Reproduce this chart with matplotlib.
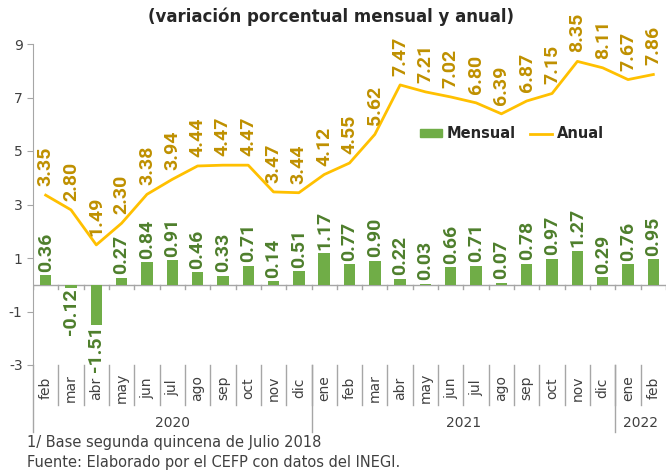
import matplotlib
matplotlib.use("Agg")
import matplotlib.pyplot as plt
from matplotlib.lines import Line2D
from matplotlib.patches import Patch
import numpy as np

# Datos: variación porcentual mensual y anual
MESES = ["feb", "mar", "abr", "may", "jun", "jul", "ago", "sep", "oct", "nov", "dic",
         "ene", "feb", "mar", "abr", "may", "jun", "jul", "ago", "sep", "oct", "nov", "dic",
         "ene", "feb"]
ANIOS = ["2020", "2021", "2022"]
MESES_POR_ANIO = [11, 12, 2]
MENSUAL = [0.36, -0.12, -1.51, 0.27, 0.84, 0.91, 0.46, 0.33, 0.71, 0.14, 0.51,
           1.17, 0.77, 0.90, 0.22, 0.03, 0.66, 0.71, 0.07, 0.78, 0.97, 1.27, 0.29,
           0.76, 0.95]
ANUAL = [3.35, 2.80, 1.49, 2.30, 3.38, 3.94, 4.44, 4.47, 4.47, 3.47, 3.44,
         4.12, 4.55, 5.62, 7.47, 7.21, 7.02, 6.80, 6.39, 6.87, 7.15, 8.35, 8.11,
         7.67, 7.86]

VERDE = "#70AD47"
VERDE_TXT = "#4E7F2C"
ORO = "#FFC000"
ORO_TXT = "#BF9000"
GRIS = "#A6A6A6"
TXT = "#404040"
LBL_FONT = ["Roboto", "DejaVu Sans"]

W, H = 670, 471
plt.rcParams["font.family"] = ["DejaVu Sans"]
plt.rcParams["axes.unicode_minus"] = False
fig = plt.figure(figsize=(W / 100, H / 100), dpi=100)

# ejes en pixeles: izquierda 33, derecha 666, arriba 44 (9), abajo 365 (-3)
ax = fig.add_axes([33 / W, 1 - 365 / H, (666 - 33) / W, (365 - 44) / H])
x = np.arange(len(MESES))
ax.set_xlim(-0.5, len(MESES) - 0.5)
ax.set_ylim(-3, 9)

ax.bar(x, MENSUAL, width=0.45, color=VERDE, zorder=2)
ax.plot(x, ANUAL, color=ORO, lw=2, zorder=3)

for xi, v in zip(x, MENSUAL):
    if v >= 0:
        ax.annotate(f"{v:.2f}", (xi, v), xytext=(0, 2.5), textcoords="offset points",
                    rotation=90, ha="center", va="bottom", color=VERDE_TXT,
                    fontsize=14, fontweight="bold", family=LBL_FONT)
    else:
        ax.annotate(f"{v:.2f}", (xi, v), xytext=(0, -0.5), textcoords="offset points",
                    rotation=90, ha="center", va="top", color=VERDE_TXT,
                    fontsize=14, fontweight="bold", family=LBL_FONT)

for xi, v in zip(x, ANUAL):
    ax.annotate(f"{v:.2f}", (xi, v), xytext=(0, 6.5), textcoords="offset points",
                rotation=90, ha="center", va="bottom", color=ORO_TXT,
                fontsize=14, fontweight="bold", family=LBL_FONT)

# ejes
for s in ["top", "right", "bottom"]:
    ax.spines[s].set_visible(False)
ax.spines["left"].set_color(GRIS)
ax.axhline(0, color=GRIS, lw=1, zorder=1)
ax.set_yticks([-3, -1, 1, 3, 5, 7, 9])
ax.tick_params(axis="y", colors=GRIS, labelcolor=TXT, labelsize=10, length=4)
ax.set_xticks([])

# marcas en el eje cero
for b in np.arange(-0.5, len(MESES), 1.0):
    ax.plot([b, b], [0, -0.15], color=GRIS, lw=1, zorder=1)

# eje de categorias en dos niveles
axfrac = 1 / (365 - 44)
ax.plot([-0.5, -0.5], [0, -67 * axfrac], transform=ax.get_xaxis_transform(),
        color=GRIS, lw=1, clip_on=False)
for b in np.arange(0.5, len(MESES) - 0.5, 1.0):
    ax.plot([b, b], [0, -40 * axfrac], transform=ax.get_xaxis_transform(),
            color=GRIS, lw=1, clip_on=False)
for xi, m in zip(x, MESES):
    ax.text(xi, -23 * axfrac, m, transform=ax.get_xaxis_transform(), rotation=90,
            ha="center", va="center", fontsize=10, color=TXT)
inicio = 0
for anio, n in zip(ANIOS, MESES_POR_ANIO):
    fin = inicio + n
    ax.text((inicio + fin - 1) / 2, -58 * axfrac, anio, transform=ax.get_xaxis_transform(),
            ha="center", va="center", fontsize=10, color=TXT)
    if fin < len(MESES):
        ax.plot([fin - 0.5, fin - 0.5], [0, -67 * axfrac], transform=ax.get_xaxis_transform(),
                color=GRIS, lw=1, clip_on=False)
    inicio = fin

handles = [Patch(color=VERDE), Line2D([0], [0], color=ORO, lw=2)]
leg = fig.legend(handles, ["Mensual", "Anual"], loc="center", bbox_to_anchor=(512 / W, 1 - 134 / H),
                 ncol=2, frameon=False, fontsize=10.5, handlelength=1.5, handleheight=0.5,
                 columnspacing=1.0, handletextpad=0.3)
for t in leg.get_texts():
    t.set_fontweight("bold")
    t.set_color("#262626")

fig.text(331 / W, 1 - 17 / H, "(variación porcentual mensual y anual)", ha="center", va="center",
         fontsize=12, fontweight="bold", color="#262626")
fig.text(27 / W, 1 - 443 / H, "1/ Base segunda quincena de Julio 2018", ha="left", va="center",
         fontsize=10.5, color=TXT)
fig.text(27 / W, 1 - 463 / H, "Fuente: Elaborado por el CEFP con datos del INEGI.", ha="left",
         va="center", fontsize=10.5, color=TXT)

fig.savefig("out.png", dpi=100)
